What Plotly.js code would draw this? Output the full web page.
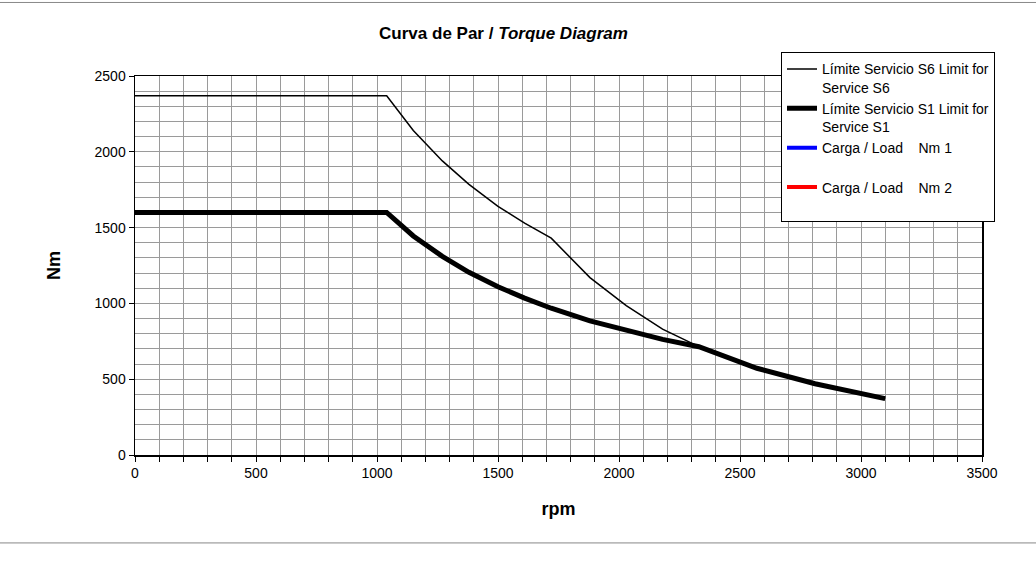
<!DOCTYPE html>
<html>
<head>
<meta charset="utf-8">
<script src="https://cdn.plot.ly/plotly-3.0.1.min.js"></script>
<style>html,body{margin:0;padding:0;background:#fff;}#chart{width:1036px;height:571px;}</style>
</head>
<body>
<div id="chart"></div>
<script>
// Límite Servicio S6 (thin line)
const s6Rpm = [0, 1040, 1150, 1270, 1380, 1500, 1610, 1720, 1880, 2030, 2180, 2330, 2570, 2810, 3100];
const s6Nm  = [2370, 2370, 2140, 1940, 1785, 1640, 1530, 1430, 1170, 985, 830, 715, 572, 470, 372];
// Límite Servicio S1 (thick line)
const s1Rpm = [0, 1040, 1150, 1270, 1380, 1500, 1610, 1720, 1880, 2030, 2180, 2330, 2570, 2810, 3100];
const s1Nm  = [1600, 1600, 1445, 1310, 1205, 1110, 1035, 968, 885, 820, 763, 714, 572, 470, 372];
// Load series (empty in the reference, legend only)
const load1Rpm = [null];
const load1Nm  = [null];
const load2Rpm = [null];
const load2Nm  = [null];

const seriesNames = [
  "Límite Servicio S6 Limit for<br>Service S6",
  "Límite Servicio S1 Limit for<br>Service S1",
  "Carga / Load\u00A0\u00A0\u00A0\u00A0Nm 1<br>\u00A0",
  "Carga / Load\u00A0\u00A0\u00A0\u00A0Nm 2<br>\u00A0"
];

const FONT = "Arial, 'Liberation Sans', sans-serif";

const traces = [
  {x: s6Rpm, y: s6Nm, name: seriesNames[0], mode: "lines", line: {color: "#000", width: 1.5}},
  {x: s1Rpm, y: s1Nm, name: seriesNames[1], mode: "lines", line: {color: "#000", width: 5}},
  {x: load1Rpm, y: load1Nm, name: seriesNames[2], mode: "lines", line: {color: "#0000ff", width: 4}},
  {x: load2Rpm, y: load2Nm, name: seriesNames[3], mode: "lines", line: {color: "#ff0000", width: 4}}
];

const layout = {
  width: 1036, height: 571,
  margin: {l: 135, r: 54, t: 76, b: 116},
  paper_bgcolor: "#fff", plot_bgcolor: "#fff",
  font: {family: FONT, size: 14, color: "#000"},
  title: {
    text: "<b>Curva de Par / <i>Torque Diagram</i></b>",
    font: {family: FONT, size: 17, color: "#000"},
    xref: "container", x: 0.486, xanchor: "center",
    yref: "container", y: 0.942, yanchor: "middle"
  },
  showlegend: true,
  legend: {
    x: 0.7627, xanchor: "left", y: 1.0625, yanchor: "top",
    bgcolor: "#fff", bordercolor: "#000", borderwidth: 1,
    font: {family: FONT, size: 14, color: "#000"},
    valign: "top", tracegroupgap: 0
  },
  xaxis: {
    range: [0, 3500], dtick: 500, tick0: 0,
    showline: true, linecolor: "#000", linewidth: 1.5, mirror: true,
    ticks: "outside", ticklen: 5, tickcolor: "#000",
    showgrid: true, gridcolor: "#9a9a9a", gridwidth: 1,
    minor: {dtick: 100, showgrid: true, gridcolor: "#9a9a9a", gridwidth: 1, ticks: "outside", ticklen: 5, tickcolor: "#000"},
    zeroline: false,
    tickfont: {family: FONT, size: 14, color: "#000"},
    title: {text: "<b>rpm</b>", font: {family: FONT, size: 18, color: "#000"}, standoff: 22}
  },
  yaxis: {
    range: [0, 2500], dtick: 500, tick0: 0,
    showline: true, linecolor: "#000", linewidth: 1.5, mirror: true,
    ticks: "outside", ticklen: 5, tickcolor: "#000",
    showgrid: true, gridcolor: "#9a9a9a", gridwidth: 1,
    minor: {dtick: 100, showgrid: true, gridcolor: "#9a9a9a", gridwidth: 1},
    zeroline: false,
    tickfont: {family: FONT, size: 14, color: "#000"},
    title: {text: "<b>Nm</b>", font: {family: FONT, size: 18, color: "#000"}, standoff: 29}
  },
  shapes: [
    {type: "line", xref: "paper", yref: "paper", x0: -0.16, x1: 1.07, y0: 1.194, y1: 1.194, line: {color: "#888", width: 1}},
    {type: "line", xref: "paper", yref: "paper", x0: -0.16, x1: 1.07, y0: -0.232, y1: -0.232, line: {color: "#888", width: 1}}
  ]
};

Plotly.newPlot("chart", traces, layout, {displayModeBar: false, staticPlot: true});
</script>
</body>
</html>
